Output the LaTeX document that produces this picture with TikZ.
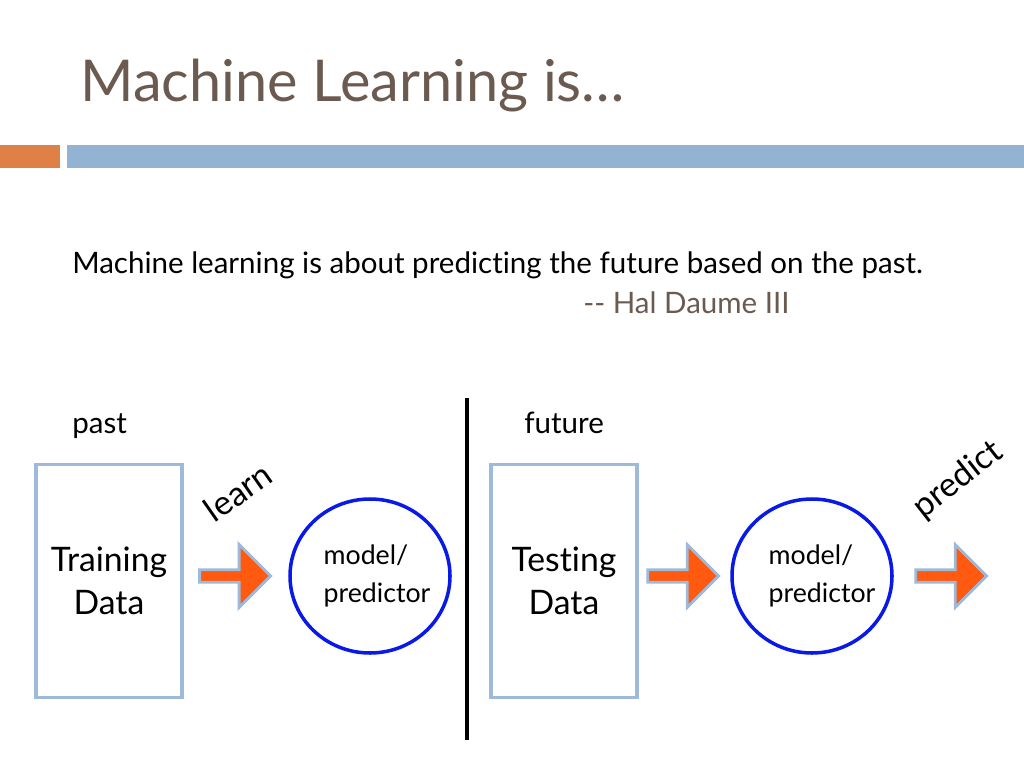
\documentclass[tikz,border=0pt]{standalone}
\usepackage{fontspec}
\setmainfont{Lato}[Ligatures=NoCommon]
\usetikzlibrary{shapes.arrows, shapes.geometric, positioning}
\definecolor{titlebrown}{HTML}{6B5A50}
\definecolor{barorange}{HTML}{DF8146}
\definecolor{barblue}{HTML}{93B3D2}
\definecolor{boxblue}{HTML}{9DBADA}
\definecolor{ringblue}{HTML}{0A1AE6}
\definecolor{arroworange}{HTML}{FF5A10}
\tikzset{
  databox/.style={rectangle, draw=boxblue, line width=2.5pt, minimum width=146*0.025cm, minimum height=233*0.025cm, align=center, font=\fontsize{24}{31}\selectfont},
  modelring/.style={ellipse, draw=ringblue, line width=2.5pt, minimum width=160*0.025cm, minimum height=154*0.025cm},
  modeltext/.style={align=left, font=\fontsize{19}{27}\selectfont},
  flow/.style={single arrow, draw=boxblue, fill=arroworange, line width=2pt, minimum width=63*0.025cm, single arrow head extend=4pt, minimum height=71*0.025cm, inner sep=0pt},
  plain/.style={font=\fontsize{21}{25}\selectfont},
  slanted/.style={font=\fontsize{24}{28}\selectfont}
}
\begin{document}
\begin{tikzpicture}[x=0.025cm, y=-0.025cm]
    \useasboundingbox (0,0) rectangle (1024,768);
    % header
    \node (title) [anchor=base west, text=titlebrown, inner sep=0pt, font=\fontsize{41}{46}\selectfont] at (80,102) {Machine Learning is…};
    \fill[barorange] (0,145) rectangle (60,168);
    \fill[barblue] (67,145) rectangle (1024,168);
    % quote
    \node (quote) [anchor=base west, inner sep=0pt, plain] at (72,273) {Machine learning is about predicting the future based on the past.};
    \node (author) [anchor=base west, inner sep=0pt, plain, text=titlebrown] at (583,313) {-{}- Hal Daume III};
    % divider
    \coordinate (top) at (467,398);
    \coordinate (bottom) at (467,740);
    \draw[line width=3pt] (top) -- (bottom);
    \node (past) [anchor=base west, inner sep=0pt, plain] at (72,433) {past};
    \node (future) [anchor=base west, inner sep=0pt, plain] at (524,433) {future};
    % past side
    \node (train) [databox] at (109,581) {Training\\Data};
    \node (learnarrow) [flow] at (232,576) {};
    \node (model1) [modelring] at (370,576) {};
    \node (model1text) [modeltext] at (377,576) {model/\\predictor};
    \node (learn) [slanted, rotate=35] at (238,492) {learn};
    % future side
    \node (test) [databox] at (564,581) {Testing\\Data};
    \node (testarrow) [flow] at (680,576) {};
    \node (model2) [modelring] at (812,576) {};
    \node (model2text) [modeltext] at (822,576) {model/\\predictor};
    \node (predictarrow) [flow] at (948,576) {};
    \node (predict) [slanted, rotate=38] at (958,480) {predict};
\end{tikzpicture}
\end{document}
